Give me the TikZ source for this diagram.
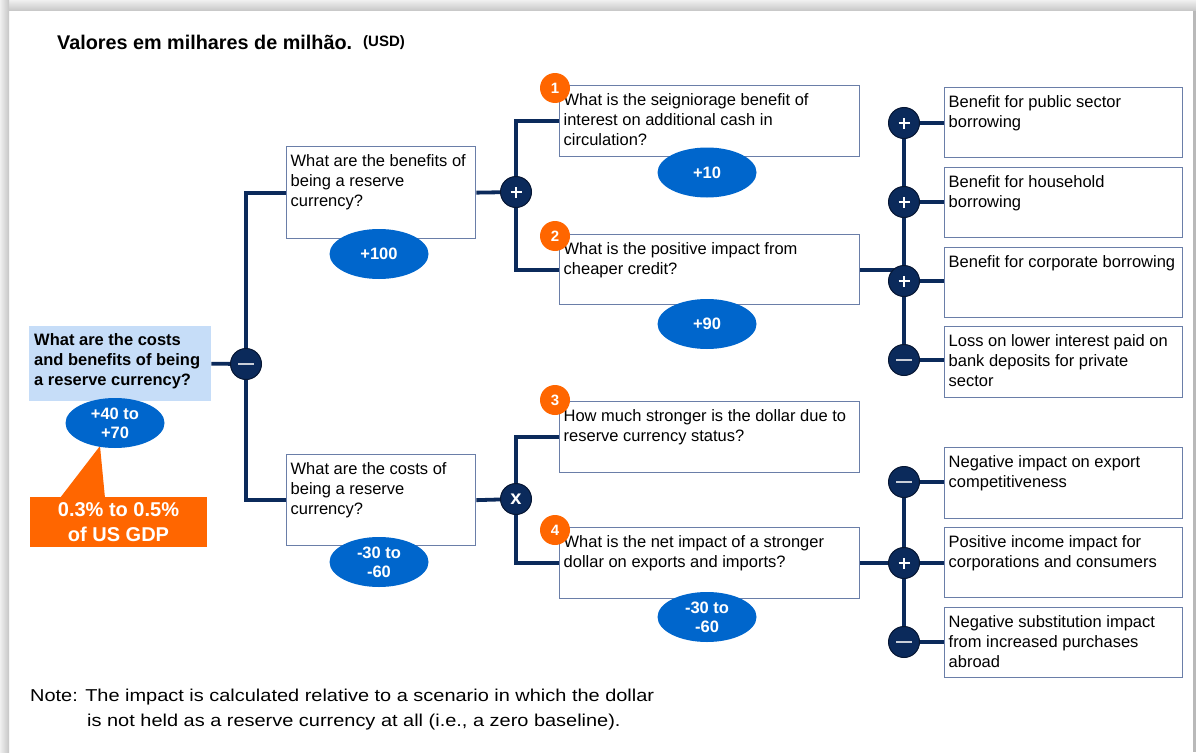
\documentclass[tikz,border=0pt]{standalone}
\usepackage{fontspec}
\setmainfont{Liberation Sans}
\newfontfamily\notefont[FakeStretch=1.16]{Liberation Sans}
\usetikzlibrary{shapes.geometric,calc}
\pgfdeclarelayer{back}
\pgfdeclarelayer{lines}
\pgfsetlayers{back,lines,main}
\definecolor{navy}{HTML}{0B2A5B}
\definecolor{opedge}{HTML}{061633}
\definecolor{ellblue}{HTML}{0066CC}
\definecolor{orng}{HTML}{FF6600}
\definecolor{rootfill}{HTML}{C6DDF8}
\definecolor{boxline}{HTML}{6A7EA8}
\definecolor{minusc}{HTML}{C9CED8}
\newcommand{\tbx}[3]{\begin{minipage}[c][#2][t]{#1}\raggedright\rule{0pt}{19.5pt}#3\end{minipage}}
\begin{document}
\begin{tikzpicture}[x=1pt,y=-1pt,
  conn/.style={draw=navy, line width=3.8pt},
  qbox/.style={draw=boxline, line width=1.3pt, fill=white, inner xsep=4pt, inner ysep=0pt, anchor=north west, font=\fontsize{16.5}{20}\selectfont},
  valell/.style={ellipse, fill=ellblue, minimum width=99pt, minimum height=50pt, inner sep=0pt, text=white, align=center, font=\bfseries\fontsize{16.5}{19}\selectfont},
  numc/.style={circle, fill=orng, minimum size=30pt, inner sep=0pt, text=white, font=\bfseries\fontsize{15}{15}\selectfont},
  opc/.style={circle, fill=navy, draw=opedge, line width=1pt, minimum size=31pt, inner sep=0pt},
  opplus/.style={opc, path picture={
     \draw[white, line width=2.6pt] ([xshift=-5.5pt]path picture bounding box.center) -- ([xshift=5.5pt]path picture bounding box.center);
     \draw[white, line width=2.6pt] ([yshift=-5.5pt]path picture bounding box.center) -- ([yshift=5.5pt]path picture bounding box.center);}},
  opminus/.style={opc, path picture={
     \draw[minusc, line width=2.6pt] ([xshift=-8pt]path picture bounding box.center) -- ([xshift=8pt]path picture bounding box.center);}},
  optimes/.style={opc, text=white, font=\bfseries\fontsize{20}{20}\selectfont},
]
\useasboundingbox (0,0) rectangle (1196,752);
\begin{pgfonlayer}{back}
  \fill[white] (0,0) rectangle (1196,752);
  \shade[top color=gray!12, bottom color=gray!45] (0,0) rectangle (1196,11);
  \shade[left color=gray!12, right color=gray!45] (0,0) rectangle (9,752);
  \fill[gray!55] (1193,11) rectangle (1195.5,752);
\end{pgfonlayer}

% title
\node[anchor=base west, inner sep=0pt, font=\bfseries\fontsize{19.8}{24}\selectfont] (title) at (57,50) {Valores em milhares de milhão.};
\node[anchor=base west, inner sep=0pt, font=\bfseries\fontsize{15}{18}\selectfont] (usd) at (363,47) {(USD)};

% root
\node[anchor=north west, fill=rootfill, inner xsep=5pt, inner ysep=0pt, font=\bfseries\fontsize{16.5}{20}\selectfont] (root) at (29,326)
  {\tbx{172pt}{75pt}{What are the costs\\and benefits of being\\a reserve currency?}};
\node[anchor=center, fill=orng, minimum width=177pt, minimum height=50pt, inner sep=0pt, align=center, text=white, font=\bfseries\fontsize{20}{25}\selectfont] (callout) at (118.5,522) {0.3\% to 0.5\%\\of US GDP};
\fill[orng] (100,446) -- (60,498) -- (105,498) -- cycle;
\node[valell] (eroot) at (115,423) {+40 to\\+70};

% level 1
\node[qbox] (ben) at (286,146) {\tbx{181pt}{92pt}{What are the benefits of\\being a reserve\\currency?}};
\node[qbox] (cost) at (286,454) {\tbx{181pt}{91pt}{What are the costs of\\being a reserve\\currency?}};
\node[valell] (eben) at (379,254) {+100};
\node[valell] (ecost) at (379,562) {-30 to\\-60};

% level 2
\node[qbox] (q1) at (559,85) {\tbx{292pt}{71pt}{What is the seigniorage benefit of\\interest on additional cash in\\circulation?}};
\node[qbox] (q2) at (559,234) {\tbx{292pt}{70pt}{What is the positive impact from\\cheaper credit?}};
\node[qbox] (q3) at (559,401) {\tbx{292pt}{71pt}{How much stronger is the dollar due to\\reserve currency status?}};
\node[qbox] (q4) at (559,527) {\tbx{292pt}{71pt}{What is the net impact of a stronger\\dollar on exports and imports?}};
\node[valell] (e1) at (707,172.5) {+10};
\node[valell] (e2) at (707,324) {+90};
\node[valell] (e4) at (707,617) {-30 to\\-60};
\node[numc] (n1) at (555,88) {1};
\node[numc] (n2) at (555,236) {2};
\node[numc] (n3) at (555,400) {3};
\node[numc] (n4) at (555,530) {4};

% level 3
\node[qbox] (r1) at (944,87) {\tbx{230pt}{70pt}{Benefit for public sector\\borrowing}};
\node[qbox] (r2) at (944,167) {\tbx{230pt}{70pt}{Benefit for household\\borrowing}};
\node[qbox] (r3) at (944,247) {\tbx{230pt}{70pt}{Benefit for corporate borrowing}};
\node[qbox] (r4) at (944,326) {\tbx{230pt}{71pt}{Loss on lower interest paid on\\bank deposits for private\\sector}};
\node[qbox] (r5) at (944,447) {\tbx{230pt}{71pt}{Negative impact on export\\competitiveness}};
\node[qbox] (r6) at (944,527) {\tbx{230pt}{70pt}{Positive income impact for\\corporations and consumers}};
\node[qbox] (r7) at (944,607) {\tbx{230pt}{70pt}{Negative substitution impact\\from increased purchases\\abroad}};

% operator circles
\node[opminus] (m0) at (246,364) {};
\node[opplus] (p1) at (516,192) {};
\node[optimes] (x1) at (516,499) {x};
\node[opplus] (a1) at (904,123) {};
\node[opplus] (a2) at (904,202) {};
\node[opplus] (a3) at (904,281) {};
\node[opminus] (a4) at (904,360) {};
\node[opminus] (b1) at (904,482) {};
\node[opplus] (b2) at (904,563) {};
\node[opminus] (b3) at (904,642) {};

% note
\node[anchor=base west, inner sep=0pt, font=\notefont\fontsize{17.2}{24}\selectfont] (note1) at (30,701) {Note: The impact is calculated relative to a scenario in which the dollar};
\node[anchor=base west, inner sep=0pt, font=\notefont\fontsize{17.2}{24}\selectfont] (note2) at (87,726) {is not held as a reserve currency at all (i.e., a zero baseline).};

\begin{pgfonlayer}{lines}
  \draw[conn] (root.east) -- (m0.center);
  \draw[conn] (ben.west) -| (m0.center) |- (cost.west);
  \draw[conn] (ben.east) -- (p1.center);
  \draw[conn] (q1.west) -| (p1.center) |- (q2.west);
  \draw[conn] (cost.east) -- (x1.center);
  \draw[conn] (q3.west) -| (x1.center) |- (q4.west);
  \draw[conn] (q2.east) -- (q2.east -| a1.center);
  \draw[conn] (a1.center) -- (a4.center);
  \draw[conn] (a1.center) -- (a1.center -| r1.west);
  \draw[conn] (a2.center) -- (a2.center -| r2.west);
  \draw[conn] (a3.center) -- (a3.center -| r3.west);
  \draw[conn] (a4.center) -- (a4.center -| r4.west);
  \draw[conn] (q4.east) -- (q4.east -| b1.center);
  \draw[conn] (b1.center) -- (b3.center);
  \draw[conn] (b1.center) -- (b1.center -| r5.west);
  \draw[conn] (b2.center) -- (b2.center -| r6.west);
  \draw[conn] (b3.center) -- (b3.center -| r7.west);
\end{pgfonlayer}
\end{tikzpicture}
\end{document}
